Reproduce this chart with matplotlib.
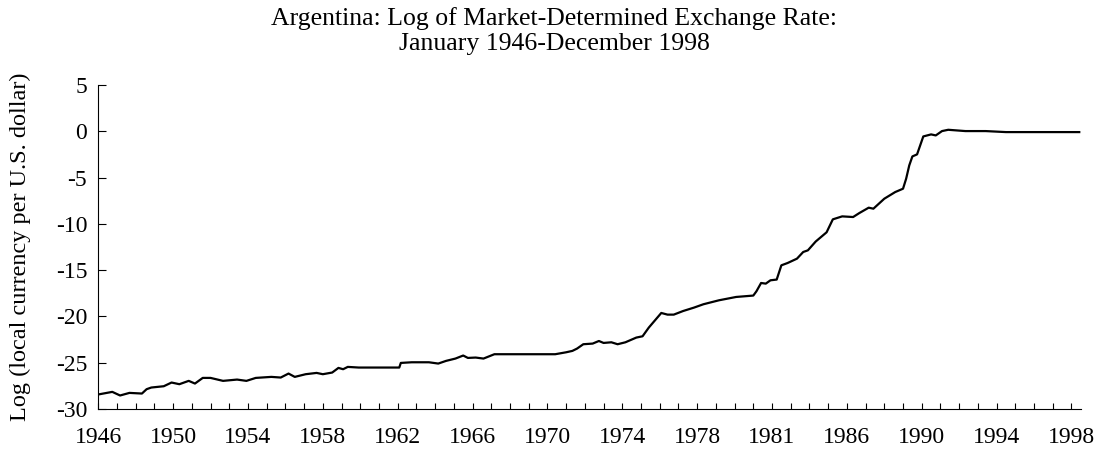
import matplotlib.pyplot as plt
import numpy as np

plt.rcParams["font.family"] = "Liberation Serif"
plt.rcParams["font.size"] = 17
plt.rcParams["axes.unicode_minus"] = False

# month index (0 = January 1946) and log exchange rate
months = [0, 9, 14, 20, 28, 31, 34, 42, 47, 52, 58, 62, 67, 72, 80, 89, 95,
          101, 111, 117, 122, 126, 133, 140, 144, 150, 154, 157, 160, 167,
          193, 194, 201, 212, 218, 223, 229, 234, 237, 242, 247, 254, 293,
          300, 304, 307, 311, 317, 321, 324, 329, 333, 338, 345, 349, 353,
          357, 361, 365, 369, 375, 382, 388, 398, 409, 420, 422, 425, 428,
          431, 435, 438, 442, 448, 452, 455, 460, 467, 471, 477, 484, 488,
          494, 497, 504, 511, 516, 518, 520, 522, 525, 527, 529, 534, 537,
          541, 545, 556, 569, 582, 629]
log_rate = [-28.43, -28.15, -28.54, -28.26, -28.33, -27.86, -27.68, -27.54,
            -27.14, -27.32, -26.96, -27.25, -26.64, -26.64, -26.96, -26.82,
            -26.96, -26.64, -26.53, -26.60, -26.17, -26.53, -26.24, -26.10,
            -26.24, -26.06, -25.56, -25.70, -25.45, -25.52, -25.52, -25.02,
            -24.95, -24.95, -25.09, -24.80, -24.55, -24.22, -24.48, -24.44,
            -24.55, -24.08, -24.08, -23.87, -23.72, -23.47, -23.00, -22.93,
            -22.65, -22.86, -22.79, -23.00, -22.79, -22.28, -22.14, -21.20,
            -20.41, -19.62, -19.80, -19.80, -19.41, -19.04, -18.68, -18.25,
            -17.89, -17.74, -17.28, -16.38, -16.45, -16.09, -16.01, -14.47,
            -14.22, -13.75, -13.03, -12.85, -11.90, -10.90, -9.50, -9.18,
            -9.25, -8.82, -8.24, -8.35, -7.27, -6.55, -6.19, -5.11, -3.67,
            -2.70, -2.48, -1.51, -0.54, -0.32, -0.43, 0.04, 0.18, 0.04, 0.04,
            -0.07, -0.07]

year_labels = ["1946", "1950", "1954", "1958", "1962", "1966", "1970",
               "1974", "1978", "1981", "1986", "1990", "1994", "1998"]

fig = plt.figure(figsize=(11.04, 4.58), dpi=100)
ax = fig.add_axes([0.089, 0.107, 0.890, 0.707])

ax.plot(months, log_rate, color="black", linewidth=1.6)

ax.set_xlim(0, 630)
ax.set_ylim(-30, 5)
ax.set_yticks(np.arange(-30, 6, 5))

tick_pos = np.arange(0, 630, 12)
ax.set_xticks(tick_pos)
labels = [""] * len(tick_pos)
for i, lab in enumerate(year_labels):
    labels[i * 4] = lab
ax.set_xticklabels(labels)

ax.spines["top"].set_visible(False)
ax.spines["right"].set_visible(False)
ax.tick_params(axis="x", direction="in", length=4.3, width=0.8, pad=13)
ax.tick_params(axis="y", direction="in", length=5.4, width=0.8, pad=8)

ax.set_ylabel("Log (local currency per U.S. dollar)", fontsize=17.5)
ax.yaxis.set_label_coords(-0.068, 0.5)

fig.text(0.502, 0.96, "Argentina: Log of Market-Determined Exchange Rate:",
         ha="center", va="center", fontsize=18.5)
fig.text(0.502, 0.905, "January 1946-December 1998",
         ha="center", va="center", fontsize=18.5)

fig.savefig("out.png", dpi=100)
